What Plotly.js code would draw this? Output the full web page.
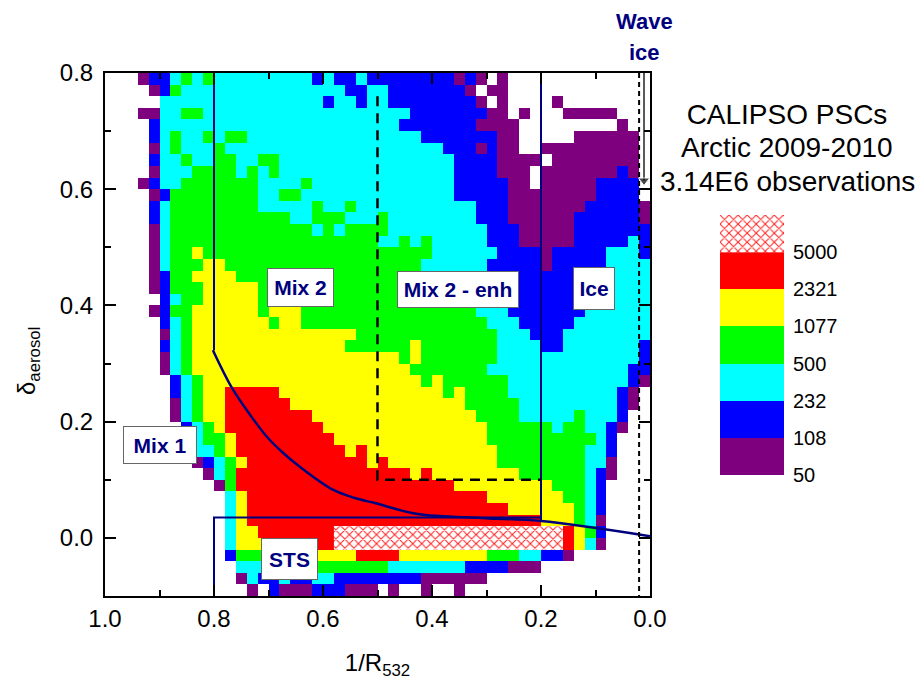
<!DOCTYPE html>
<html>
<head>
<meta charset="utf-8">
<script src="https://cdn.plot.ly/plotly-3.0.1.min.js"></script>
<style>html,body{margin:0;padding:0;background:#fff}#chart{width:916px;height:681px}</style>
</head>
<body>
<div id="chart"></div>
<script>
// Count levels, one row per string from delta=0.8 (top) down to -0.1.
// Token = level code + column where that run stops (exclusive), columns run from 1/R=1.0 to 0.0.
const levelRows = [
"w3 p4 b6 c7 g8 c9 g10 c19 b20 c21 b23 c24 b32 p33 b34 p35 w36 p37",
"w4 p5 b6 g7 c22 b24 c26 b33 p34 w35 p37",
"w5 c20 b21 c23 b24 c26 b34 p35 w36 p37 w41 p42",
"w3 p5 c7 g9 c28 b35 p37 w38 p39 w42 p47",
"w4 b5 c27 b34 p38 w47 p48",
"w4 b5 c6 g7 c9 g10 c11 g13 c29 b36 p38 w43 p49",
"w4 p5 c6 g7 c10 g11 c31 b34 p35 b36 p38 w40 p49",
"w4 b5 c7 g8 c10 g12 c14 g16 c32 b36 p40 w41 p49",
"w4 p5 c8 g12 c13 g14 c15 g16 c32 b36 p39 w40 p47 b48 p49",
"w3 p4 b5 c7 g14 c18 g19 c32 b37 p39 w40 p45 b49",
"w4 p5 b6 g14 c16 g18 c32 b37 p45 b49",
"w4 b5 c6 g14 c19 g20 c22 g23 c34 b37 p44 b49 p50",
"w4 b5 c6 g17 c19 g22 c25 g26 c34 b37 p43 b49 p50",
"w4 p5 c6 g19 c20 g21 c22 g26 c35 b38 p43 b50",
"w4 p5 c6 g25 c27 g28 c29 g30 c35 b38 p43 b48 c49 b50",
"w4 p5 c6 g8 y9 g30 c36 b40 p41 b46 c49 b50",
"w4 p5 c6 g9 y11 g29 c35 b40 p41 b46 c50",
"w4 p5 b6 g8 y12 g29 c35 b45 c50",
"w4 p5 b6 g9 y14 g30 c35 b45 c50",
"w5 b6 c7 g9 y14 g32 c36 b45 c50",
"w4 p5 b6 g8 y14 g15 y18 g34 c37 b44 c50",
"w5 b6 c7 g8 y15 g16 y18 g35 c38 b43 c50",
"w5 p6 c7 g8 y23 g36 c39 b42 c50",
"w5 b6 c7 g8 y22 g28 y29 g36 c40 b42 c49 b50",
"w5 p6 c7 g8 y27 g28 y29 g36 c49 b50",
"w5 p6 c7 g8 y28 g35 c48 b50",
"w6 b7 c8 g9 y29 g30 y31 g37 c48 b49 p50",
"w6 b7 c8 g9 y11 r16 y31 g32 y33 g37 c47 b48 p49",
"w6 p7 c8 g9 y11 r17 y33 g38 c47 b48 p49",
"w6 p7 c8 g9 y11 r19 y34 g38 c43 g44 c47 b48",
"w7 b8 c9 g10 y11 r20 y35 g41 c42 g44 c46 b47 p48",
"w8 c9 g11 y12 r21 y35 g45 c46 b47",
"w8 c10 g11 y12 r22 y23 r24 y36 g44 c46 b47",
"w8 p9 b10 c11 g12 y13 r24 y25 r26 y36 g44 c46 p47",
"w9 p10 c11 g12 r28 y29 r30 y38 g44 c45 b46 p47",
"w10 p11 g12 r32 y41 g44 c45 b46",
"w11 c12 y13 r35 y42 g44 c45 b46",
"w11 c12 y13 r37 y43 g44 c45 b46",
"w11 c12 y13 r40 y43 g44 c45 p46",
"w11 c12 y14 r21 x42 r43 y44 g45 b46",
"w11 c12 y15 r21 x42 r43 y44 c45 p46",
"w11 b12 g15 y23 r27 y35 g38 c40 b42 p43",
"w12 c15 g26 c33 b37 p40",
"w12 p13 c14 b16 c17 b19 c21 b29 p35",
"w13 p14 w15 b16 p19 b22 p25 w26 p27 w29 p30 w32 p33"
];
const levelCodes = ["p","b","c","g","y","r"];
const levelColors = ["#7f007f","#0000ff","#00ffff","#00ff00","#ffff00","#ff0000"];
const legendValues = ["50","108","232","500","1077","2321","5000"];
const legendBands = [0.5,1.5,2.5,3.5,4.5,5.5];
const xTicks = [1.0,0.8,0.6,0.4,0.2,0.0];
const yTicks = [0.8,0.6,0.4,0.2,0.0];
const titleLines = ["CALIPSO PSCs","Arctic 2009-2010","3.14E6 observations"];

const curveX = [0.802,0.767,0.734,0.703,0.673,0.642,0.582,0.543,0.505,0.426,0.303,0.200,0.000];
const curveY = [0.323,0.258,0.212,0.174,0.146,0.122,0.083,0.069,0.060,0.041,0.034,0.029,0.003];
const mix1EdgeX = [0.8,0.8];       const mix1EdgeY = [0.8,0.323];
const iceEdgeX = [0.2,0.2];        const iceEdgeY = [0.8,0.029];
const stsBoxX = [0.8,0.8,0.2];     const stsBoxY = [-0.1,0.035,0.035];
const enhBoxX = [0.5,0.5,0.2];     const enhBoxY = [0.76,0.1,0.1];
const waveEdgeX = [0.02,0.02];     const waveEdgeY = [0.8,-0.1];
const waveArrowX = [0.011,0.011];  const waveArrowY = [0.814,0.615];

const NX = 50, NY = 45, CELLX = 0.02, CELLY = 0.02;
const xCenters = Array.from({length:NX},(_,k)=>1-(k+0.5)*CELLX);
const yCenters = Array.from({length:NY},(_,r)=>0.8-(r+0.5)*CELLY);
const z = [];
let hatch = {k0:NX,k1:0,r0:NY,r1:0};
levelRows.forEach((row,r)=>{
  const cells = new Array(NX).fill(null);
  let start = 0;
  row.split(" ").forEach(tok=>{
    const code = tok[0], end = parseInt(tok.slice(1),10);
    const lv = levelCodes.indexOf(code);
    for(let k=start;k<end;k++){
      if(lv>=0) cells[k]=lv+0.5;
      if(code==="x"){
        hatch.k0=Math.min(hatch.k0,k);hatch.k1=Math.max(hatch.k1,k+1);
        hatch.r0=Math.min(hatch.r0,r);hatch.r1=Math.max(hatch.r1,r+1);
      }
    }
    start=end;
  });
  z.push(cells);
});
const scale=[];
levelColors.forEach((c,i)=>{scale.push([i/6,c]);scale.push([(i+1)/6,c]);});
const navy="#00007f";
const hatchMarker={color:"#ffffff",line:{width:0},pattern:{shape:"x",fgcolor:"#ff2020",bgcolor:"#ffffff",size:6.4,solidity:0.3}};
const hatchLeft=1-hatch.k0*CELLX, hatchRight=1-hatch.k1*CELLX;
const hatchTop=0.8-hatch.r0*CELLY, hatchBottom=0.8-hatch.r1*CELLY;
function ln(x,y,color,width,dash,shape){return {type:"scatter",mode:"lines",x:x,y:y,line:{color:color,width:width,dash:dash||"solid",shape:shape||"linear"},hoverinfo:"skip",showlegend:false};}

const traces=[
 {type:"heatmap",x:xCenters,y:yCenters,z:z,zmin:0,zmax:6,colorscale:scale,showscale:false,hoverongaps:false},
 {type:"bar",x:[(hatchLeft+hatchRight)/2],y:[hatchTop-hatchBottom],base:[hatchBottom],width:[hatchLeft-hatchRight],marker:hatchMarker,showlegend:false,hoverinfo:"skip"},
 ln(mix1EdgeX,mix1EdgeY,navy,2),
 ln(iceEdgeX,iceEdgeY,navy,2),
 ln(stsBoxX,stsBoxY,navy,2),
 ln(curveX,curveY,navy,2.5,"solid","spline"),
 ln(enhBoxX,enhBoxY,"#000000",2.5,"10px,7px"),
 ln(waveEdgeX,waveEdgeY,"#000000",2,"5px,4px"),
 {type:"scatter",mode:"lines+markers",x:waveArrowX,y:waveArrowY,cliponaxis:false,line:{color:"#000",width:1.3},
  marker:{symbol:["circle","triangle-down"],size:[0,10],color:"#000"},hoverinfo:"skip",showlegend:false},
 {type:"heatmap",xaxis:"x2",yaxis:"y2",x:[0],y:legendBands,z:legendBands.map(v=>[v]),zmin:0,zmax:6,colorscale:scale,showscale:false,hoverinfo:"skip"},
 {type:"bar",xaxis:"x2",yaxis:"y2",x:[0],y:[1],base:[6],width:[1],marker:hatchMarker,showlegend:false,hoverinfo:"skip"}
];

const FONT="Liberation Sans, Arial, sans-serif";
function box(text,x,y,w,h){return {text:"<b>"+text+"</b>",xref:"paper",yref:"paper",x:x/916,y:1-y/681,xanchor:"center",yanchor:"middle",showarrow:false,
  font:{family:FONT,size:21,color:navy},bgcolor:"#ffffff",bordercolor:"#666666",borderwidth:1,borderpad:0,width:w,height:h};}
function plain(text,x,y,size,color,angle){return {text:text,xref:"paper",yref:"paper",x:x/916,y:1-y/681,xanchor:"center",yanchor:"middle",showarrow:false,font:{family:FONT,size:size,color:color},textangle:angle||0};}

const axisCommon={showgrid:false,zeroline:false,showline:true,linecolor:"#000",linewidth:2,mirror:"allticks",ticks:"inside",ticklen:11,tickwidth:2,tickcolor:"#000",
  tickfont:{family:FONT,size:24,color:"#000"},
  minor:{ticks:"inside",ticklen:6,tickwidth:2,tickcolor:"#000",dtick:0.1,showgrid:false}};
const layout={
 width:916,height:681,margin:{l:0,r:0,t:0,b:0},paper_bgcolor:"#fff",plot_bgcolor:"#fff",barmode:"overlay",showlegend:false,
 title:{text:titleLines[0],font:{family:FONT,size:28,color:"#000"},xref:"paper",yref:"paper",x:787/916,xanchor:"center",y:1-114/681,yanchor:"middle"},
 xaxis:Object.assign({},axisCommon,{domain:[105/916,650/916],range:[1,0],tickmode:"array",tickvals:xTicks,ticktext:xTicks.map(v=>v.toFixed(1)),anchor:"y",ticklabelstandoff:0,
   title:{text:"1/R<sub>532</sub>",font:{family:FONT,size:24,color:"#000"},standoff:23}}),
 yaxis:Object.assign({},axisCommon,{domain:[1-596/681,1-73/681],range:[-0.1,0.8],tickmode:"array",tickvals:yTicks,ticktext:yTicks.map(v=>v.toFixed(1)),anchor:"x",ticklabelstandoff:5}),
 xaxis2:{domain:[720/916,784/916],range:[-0.5,0.5],visible:false,anchor:"y2",showgrid:false,zeroline:false},
 yaxis2:{domain:[1-475/681,1-215/681],range:[0,7],anchor:"x2",side:"right",showgrid:false,zeroline:false,showline:false,ticks:"",tickmode:"array",
   tickvals:legendValues.map((_,i)=>i),ticktext:legendValues,ticklabelstandoff:8,tickfont:{family:FONT,size:20,color:"#000"}},
 annotations:[
  plain(titleLines[1],787,147,28,"#000"),
  plain(titleLines[2],787,181,28,"#000"),
  plain("δ<sub>aerosol</sub>",28,361,24,"#000",-90),
  plain("<b>Wave</b>",644,21,22,navy),
  plain("<b>ice</b>",644,53,22,navy),
  box("Mix 2",300.5,287.5,65,37),
  box("Mix 2 - enh",458,289.5,120,35),
  box("Ice",594,288.5,40,41),
  box("Mix 1",160,445,72,36),
  box("STS",289.5,559,55,40)
 ]
};
Plotly.newPlot("chart",traces,layout,{displayModeBar:false,staticPlot:true});
</script>
</body>
</html>
